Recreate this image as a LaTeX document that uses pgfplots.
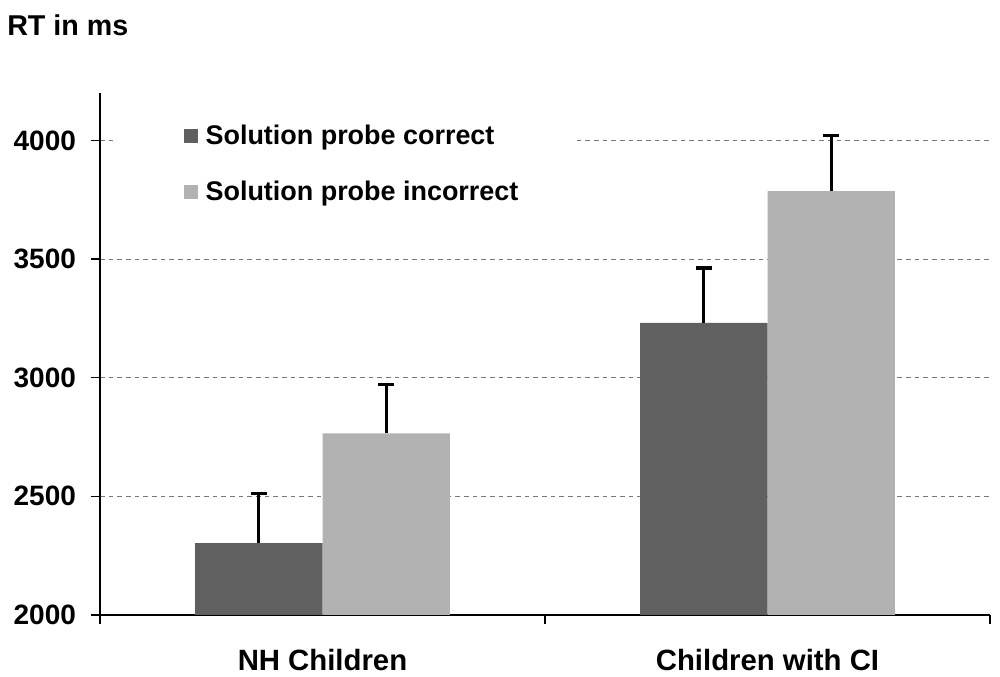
\documentclass[border=0pt]{standalone}
\usepackage{pgfplots}
\pgfplotsset{compat=1.18}
\usepackage{fontspec}
\setmainfont{Liberation Sans}
\definecolor{darkbar}{RGB}{96,96,96}
\definecolor{lightbar}{RGB}{178,178,178}
\definecolor{gridgray}{RGB}{120,120,120}
\begin{document}
\begin{tikzpicture}
\begin{axis}[
  name=ax, at={(0,0)}, anchor=south west,
  width=667.5pt, height=391.5pt, scale only axis,
  xmin=-0.5, xmax=1.5, ymin=2000, ymax=4200,
  axis lines=left, axis line style={-, line width=1pt, black},
  ybar=0pt, bar width=0.286,
  ytick={2000,2500,3000,3500,4000},
  scaled y ticks=false,
  /pgf/number format/1000 sep={},
  /pgf/number format/assume math mode=true,
  ymajorgrids, grid style={gridgray, line width=0.8pt, dash pattern=on 3.5pt off 3pt},
  tick align=outside, major tick length=6.5pt,
  tick style={black, line width=1pt},
  xtick={-0.5,0.5,1.5}, xticklabels={,,},
  extra x ticks={0,1},
  extra x tick labels={NH Children, Children with CI},
  extra x tick style={major tick length=0pt, tick style={draw=none},
     xticklabel style={anchor=base, yshift=-42pt}},
  ticklabel style={font=\bfseries\fontsize{21}{25}\selectfont},
  xticklabel style={font=\bfseries\fontsize{22}{26}\selectfont},
  yticklabel style={xshift=-8pt},
  legend style={at={(0.015,0.955)}, anchor=north west, draw=none, fill=white,
     font=\bfseries\fontsize{20.2}{24}\selectfont, row sep=22pt,
     cells={anchor=west}, inner xsep=38pt, inner ysep=4pt,
     nodes={inner xsep=5.5pt}},
  legend image code/.code={\path[draw=none,fill=none] (0pt,0pt) -- (15pt,0pt);
     \fill[#1,draw=none] (15pt,-5.25pt) rectangle (25.5pt,5.25pt);},
  legend cell align=left,
]
\addplot[fill=darkbar, draw=none,
  error bars/.cd, y dir=plus, y explicit,
  error bar style={line width=2.4pt, solid, draw=black},
  error mark options={line width=2.4pt, draw=black, mark size=6pt, rotate=90}]
  coordinates {(0,2303) +- (0,210) (1,3231) +- (0,231)};
\addplot[fill=lightbar, draw=none,
  error bars/.cd, y dir=plus, y explicit,
  error bar style={line width=2.4pt, solid, draw=black},
  error mark options={line width=2.4pt, draw=black, mark size=6pt, rotate=90}]
  coordinates {(0,2765) +- (0,206) (1,3786) +- (0,235)};
\legend{Solution probe correct, Solution probe incorrect}
\end{axis}
\node[anchor=base west, inner sep=0pt, font=\bfseries\fontsize{21.5}{26}\selectfont]
  at ([xshift=-69.75pt, yshift=42.75pt]ax.north west) {RT in ms};
\path ([xshift=-75pt,yshift=-46.5pt]ax.south west) rectangle ++(750pt,507.75pt);
\end{tikzpicture}
\end{document}
